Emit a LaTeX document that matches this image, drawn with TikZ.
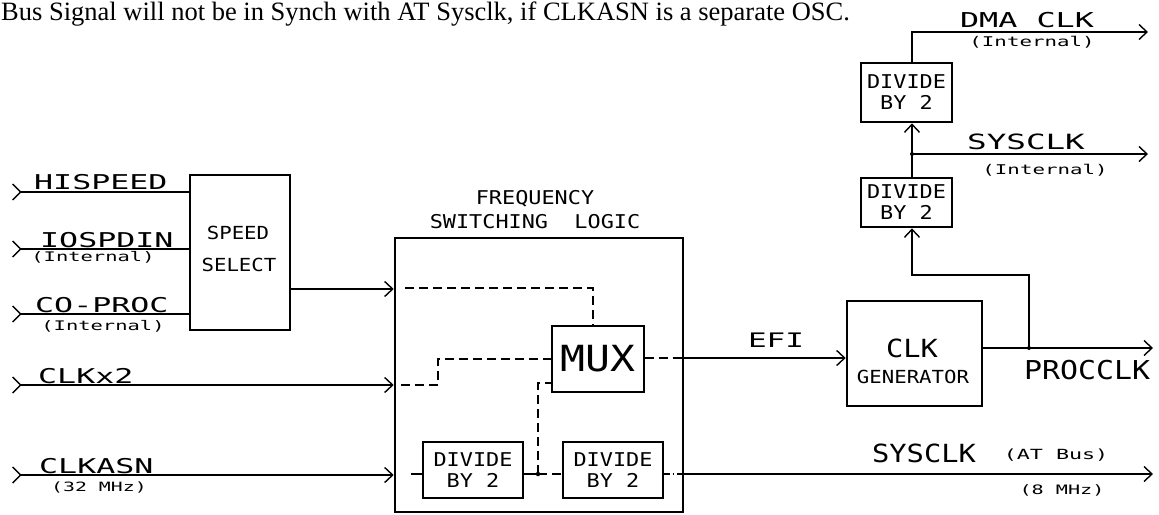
\documentclass[tikz,border=0pt]{standalone}
\usepackage{fontspec}
\usetikzlibrary{arrows.meta,calc}
\setmainfont{Liberation Serif}
\newfontfamily\pltw[FakeStretch=1.55]{DejaVu Sans Mono}
\newfontfamily\pltn[FakeStretch=1.15]{DejaVu Sans Mono}
\newcommand\fw[1]{\pltw\fontsize{#1}{#1}\selectfont}
\newcommand\fn[1]{\pltn\fontsize{#1}{#1}\selectfont}
\tikzset{
  hbox/.style={draw, line width=2.6pt, inner sep=0pt, align=center},
  lbox/.style={draw, line width=1.4pt, inner sep=0pt, align=center},
  txt/.style={inner sep=0pt, align=center},
  wire/.style={line width=1.6pt},
  dsh/.style={line width=1.5pt, dash pattern=on 9pt off 5pt},
  arr/.style={-{Straight Barb[length=8pt,width=15pt,line width=1.4pt]}},
  inarr/.style={{Straight Barb[reversed,length=8pt,width=16pt,line width=1.4pt]}-},
  inout/.style={{Straight Barb[reversed,length=8pt,width=16pt,line width=1.4pt]}-{Straight Barb[length=8pt,width=15pt,line width=1.4pt]}},
  jdot/.style={circle, fill, inner sep=0pt, minimum size=4.5pt}
}
\begin{document}
\begin{tikzpicture}[x=1pt,y=-1pt]
\useasboundingbox (0,0) rectangle (1159,514);
% caption
\node[txt, anchor=base west, font=\fontsize{26.5}{27}\selectfont] (cap) at (1,20.5)
  {Bus Signal will not be in Synch with AT Sysclk, if CLKASN is a separate OSC.};

% boxes
\node[hbox, minimum width=100pt, minimum height=155pt] (ss) at (240,252.5) {};
\node[txt, font=\fn{18}] (ssa) at (238,233) {SPEED};
\node[txt, font=\fn{18}] (ssb) at (239,265) {SELECT};

\node[hbox, minimum width=288pt, minimum height=274pt] (fsl) at (539,375) {};
\node[txt, font=\fn{19}] (fsla) at (535,199) {FREQUENCY};
\node[txt, font=\fn{19}] (fslb) at (535,222) {SWITCHING\ \ LOGIC};

\node[lbox, minimum width=92pt, minimum height=66pt, font=\fn{36}] (mux) at (598,359) {MUX};
\node[lbox, minimum width=100pt, minimum height=56pt, font=\fn{19}] (d1) at (473,470) {DIVIDE\\[2pt]BY 2};
\node[lbox, minimum width=100pt, minimum height=56pt, font=\fn{19}] (d2) at (613,470) {DIVIDE\\[2pt]BY 2};

\node[hbox, minimum width=135pt, minimum height=105pt] (cg) at (914.5,353.5) {};
\node[txt, font=\fn{25}] (cga) at (912,348) {CLK};
\node[txt, font=\fn{18}] (cgb) at (913,377) {GENERATOR};

\node[hbox, minimum width=91pt, minimum height=49pt, font=\fn{19}] (d3) at (906.5,202.5) {DIVIDE\\[2pt]BY 2};
\node[hbox, minimum width=91pt, minimum height=59pt, font=\fn{19}] (d4) at (906.5,92.5) {DIVIDE\\[2pt]BY 2};

% input coordinates
\coordinate (ihs) at (12,192);
\coordinate (iio) at (12,249);
\coordinate (icp) at (12,314);
\coordinate (ick) at (12,385);
\coordinate (ias) at (12,475);

% input labels
\node[txt, anchor=base west, font=\fw{20.4}] (lhs) at (34,189) {HISPEED};
\node[txt, anchor=base west, font=\fw{20.4}] (lio) at (40,247) {IOSPDIN};
\node[txt, font=\fw{13.2}] (lio2) at (93,257) {(Internal)};
\node[txt, anchor=base west, font=\fw{20.4}] (lcp) at (35,312) {CO-PROC};
\node[txt, font=\fw{13.2}] (lcp2) at (103,326) {(Internal)};
\node[txt, anchor=base west, font=\fw{20.4}] (lck) at (38,383) {CLKx2};
\node[txt, anchor=base west, font=\fw{20.4}] (las) at (39,473) {CLKASN};
\node[txt, font=\fw{12.8}] (las2) at (99,487) {(32 MHz)};

% input wires
\draw[wire, inarr] (ihs) -- (ihs -| ss.west);
\draw[wire, inarr] (iio) -- (iio -| ss.west);
\draw[wire, inarr] (icp) -- (icp -| ss.west);
\draw[wire, inout] (ick) -- (ick -| fsl.west);
\draw[wire, inout] (ias) -- (ias -| fsl.west);

% speed select output
\coordinate (sso) at (290,289);
\draw[wire, arr] (sso) -- (sso -| fsl.west);

% internal dashed paths
\coordinate (p1) at (405,288);
\coordinate (p1c) at (593,288);
\draw[dsh] (p1) -- (p1c) -- (p1c |- mux.north);
\coordinate (p2) at (401,385);
\coordinate (p2c) at (438,385);
\draw[dsh] (p2) -- (p2c) -- (p2c |- mux.west) -- (mux.west);

% clkasn path inside
\coordinate (p3) at (411,474);
\draw[wire] (p3) -- (p3 -| d1.west);
\coordinate (jn) at (538,474);
\draw[wire] (jn -| d1.east) -- (jn);
\node[jdot] (jd) at (jn) {};
\draw[dsh] (jn) -- (jn -| d2.west);
\coordinate (mx) at (552,383);
\draw[dsh] (jn) -- (jn |- mx) -- (mx);

% MUX output / EFI
\coordinate (efi) at (683,358);
\draw[dsh] (mux.east |- efi) -- (efi);
\draw[wire, arr] (efi) -- (efi -| cg.west);
\node[txt, font=\fw{20}] (lefi) at (776,340) {EFI};

% SYSCLK AT bus
\coordinate (sy) at (683,474);
\draw[wire, dash pattern=on 6pt off 3pt on 1.5pt off 3pt] (sy -| d2.east) -- (sy);
\coordinate (sye) at (1153,474);
\draw[wire, arr] (sy) -- (sye);
\node[txt, font=\fn{25}] (lsy) at (924,453) {SYSCLK};
\node[txt, font=\fw{14}] (lsy2) at (1056,455) {(AT Bus)};
\node[txt, font=\fw{13}] (lsy3) at (1062,490) {(8 MHz)};

% CLK generator output
\coordinate (pc) at (982,348);
\coordinate (pce) at (1153,348);
\coordinate (pj) at (1029,348);
\draw[wire, arr] (pc) -- (pce);
\node[txt, font=\fn{26}] (lpc) at (1087,370) {PROCCLK};
\coordinate (vx) at (912,275);
\draw[wire, arr] (pj) -- (pj |- vx) -- (vx) -- (vx |- d3.south);
\node[jdot, minimum size=4pt] (pjd) at (pj) {};

% divide chain
\draw[wire, arr] (vx |- d3.north) -- (vx |- d4.south);
\coordinate (sj) at (912,154);
\coordinate (sje) at (1148,154);
\draw[wire, arr] (sj) -- (sje);
\node[jdot, minimum size=4pt] (sjd) at (sj) {};
\node[txt, font=\fw{21}] (lsi) at (1026,142) {SYSCLK};
\node[txt, font=\fw{13.4}] (lsi2) at (1045,170) {(Internal)};

\coordinate (dm) at (912,32);
\coordinate (dme) at (1148,32);
\draw[wire, arr] (vx |- d4.north) -- (dm) -- (dme);
\node[txt, font=\fw{20.5}] (ldm) at (1027,20) {DMA CLK};
\node[txt, font=\fw{13.4}] (ldm2) at (1032,42) {(Internal)};
\end{tikzpicture}
\end{document}
